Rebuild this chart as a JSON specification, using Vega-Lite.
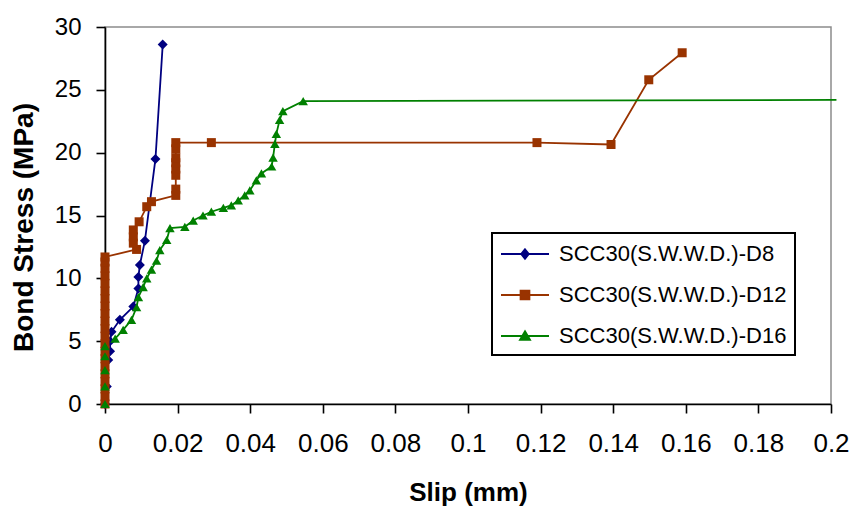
{
  "$schema": "https://vega.github.io/schema/vega-lite/v6.json",
  "width": 726,
  "height": 377,
  "autosize": {"type": "none"},
  "padding": {"left": 105, "top": 27, "right": 21, "bottom": 103},
  "background": "white",
  "config": {
    "font": "Liberation Sans",
    "view": {"stroke": "#8c8c8c", "strokeWidth": 1.5},
    "axis": {
      "domainColor": "#000", "domainWidth": 1.6, "tickColor": "#000", "tickWidth": 1.6, "tickSize": 9,
      "grid": false, "labelColor": "#000", "titleColor": "#000",
      "labelFont": "Liberation Sans", "titleFont": "Liberation Sans", "titleFontWeight": "bold",
      "labelOverlap": false, "labelFlush": false, "labelBound": false
    }
  },
  "data": {"values": [
    {"series": "SCC30(S.W.W.D.)-D8", "slip": 0, "stress": 0},
    {"series": "SCC30(S.W.W.D.)-D8", "slip": 0.0005, "stress": 1.4},
    {"series": "SCC30(S.W.W.D.)-D8", "slip": 0.0009, "stress": 3.5},
    {"series": "SCC30(S.W.W.D.)-D8", "slip": 0.0014, "stress": 4.2},
    {"series": "SCC30(S.W.W.D.)-D8", "slip": 0.0014, "stress": 5.0},
    {"series": "SCC30(S.W.W.D.)-D8", "slip": 0.0018, "stress": 5.75},
    {"series": "SCC30(S.W.W.D.)-D8", "slip": 0.0041, "stress": 6.7},
    {"series": "SCC30(S.W.W.D.)-D8", "slip": 0.0078, "stress": 7.75},
    {"series": "SCC30(S.W.W.D.)-D8", "slip": 0.0092, "stress": 9.2},
    {"series": "SCC30(S.W.W.D.)-D8", "slip": 0.0092, "stress": 10.1},
    {"series": "SCC30(S.W.W.D.)-D8", "slip": 0.0096, "stress": 11.06},
    {"series": "SCC30(S.W.W.D.)-D8", "slip": 0.011, "stress": 13.0},
    {"series": "SCC30(S.W.W.D.)-D8", "slip": 0.0139, "stress": 19.5},
    {"series": "SCC30(S.W.W.D.)-D8", "slip": 0.0159, "stress": 28.6},

    {"series": "SCC30(S.W.W.D.)-D12", "slip": 0, "stress": 0},
    {"series": "SCC30(S.W.W.D.)-D12", "slip": 0, "stress": 0.6},
    {"series": "SCC30(S.W.W.D.)-D12", "slip": 0, "stress": 1.2},
    {"series": "SCC30(S.W.W.D.)-D12", "slip": 0, "stress": 1.8},
    {"series": "SCC30(S.W.W.D.)-D12", "slip": 0, "stress": 2.4},
    {"series": "SCC30(S.W.W.D.)-D12", "slip": 0, "stress": 3.0},
    {"series": "SCC30(S.W.W.D.)-D12", "slip": 0, "stress": 3.6},
    {"series": "SCC30(S.W.W.D.)-D12", "slip": 0, "stress": 4.2},
    {"series": "SCC30(S.W.W.D.)-D12", "slip": 0, "stress": 4.8},
    {"series": "SCC30(S.W.W.D.)-D12", "slip": 0, "stress": 5.4},
    {"series": "SCC30(S.W.W.D.)-D12", "slip": 0, "stress": 6.0},
    {"series": "SCC30(S.W.W.D.)-D12", "slip": 0, "stress": 6.6},
    {"series": "SCC30(S.W.W.D.)-D12", "slip": 0, "stress": 7.2},
    {"series": "SCC30(S.W.W.D.)-D12", "slip": 0, "stress": 7.8},
    {"series": "SCC30(S.W.W.D.)-D12", "slip": 0, "stress": 8.4},
    {"series": "SCC30(S.W.W.D.)-D12", "slip": 0, "stress": 9.0},
    {"series": "SCC30(S.W.W.D.)-D12", "slip": 0, "stress": 9.6},
    {"series": "SCC30(S.W.W.D.)-D12", "slip": 0, "stress": 10.2},
    {"series": "SCC30(S.W.W.D.)-D12", "slip": 0, "stress": 10.8},
    {"series": "SCC30(S.W.W.D.)-D12", "slip": 0, "stress": 11.3},
    {"series": "SCC30(S.W.W.D.)-D12", "slip": 0, "stress": 11.7},
    {"series": "SCC30(S.W.W.D.)-D12", "slip": 0.0087, "stress": 12.3},
    {"series": "SCC30(S.W.W.D.)-D12", "slip": 0.0078, "stress": 12.8},
    {"series": "SCC30(S.W.W.D.)-D12", "slip": 0.0078, "stress": 13.3},
    {"series": "SCC30(S.W.W.D.)-D12", "slip": 0.0078, "stress": 13.85},
    {"series": "SCC30(S.W.W.D.)-D12", "slip": 0.0094, "stress": 14.5},
    {"series": "SCC30(S.W.W.D.)-D12", "slip": 0.0115, "stress": 15.7},
    {"series": "SCC30(S.W.W.D.)-D12", "slip": 0.0128, "stress": 16.1},
    {"series": "SCC30(S.W.W.D.)-D12", "slip": 0.0195, "stress": 16.6},
    {"series": "SCC30(S.W.W.D.)-D12", "slip": 0.0195, "stress": 17.1},
    {"series": "SCC30(S.W.W.D.)-D12", "slip": 0.0195, "stress": 18.2},
    {"series": "SCC30(S.W.W.D.)-D12", "slip": 0.0195, "stress": 18.7},
    {"series": "SCC30(S.W.W.D.)-D12", "slip": 0.0195, "stress": 19.2},
    {"series": "SCC30(S.W.W.D.)-D12", "slip": 0.0195, "stress": 19.6},
    {"series": "SCC30(S.W.W.D.)-D12", "slip": 0.0195, "stress": 20.3},
    {"series": "SCC30(S.W.W.D.)-D12", "slip": 0.0195, "stress": 20.8},
    {"series": "SCC30(S.W.W.D.)-D12", "slip": 0.0293, "stress": 20.8},
    {"series": "SCC30(S.W.W.D.)-D12", "slip": 0.119, "stress": 20.8},
    {"series": "SCC30(S.W.W.D.)-D12", "slip": 0.1394, "stress": 20.65},
    {"series": "SCC30(S.W.W.D.)-D12", "slip": 0.1498, "stress": 25.8},
    {"series": "SCC30(S.W.W.D.)-D12", "slip": 0.159, "stress": 27.95},

    {"series": "SCC30(S.W.W.D.)-D16", "slip": 0, "stress": 0},
    {"series": "SCC30(S.W.W.D.)-D16", "slip": 0, "stress": 1.4},
    {"series": "SCC30(S.W.W.D.)-D16", "slip": 0, "stress": 2.7},
    {"series": "SCC30(S.W.W.D.)-D16", "slip": 0, "stress": 3.8},
    {"series": "SCC30(S.W.W.D.)-D16", "slip": 0, "stress": 4.6},
    {"series": "SCC30(S.W.W.D.)-D16", "slip": 0.0028, "stress": 5.2},
    {"series": "SCC30(S.W.W.D.)-D16", "slip": 0.005, "stress": 5.9},
    {"series": "SCC30(S.W.W.D.)-D16", "slip": 0.0073, "stress": 6.7},
    {"series": "SCC30(S.W.W.D.)-D16", "slip": 0.0087, "stress": 7.7},
    {"series": "SCC30(S.W.W.D.)-D16", "slip": 0.0092, "stress": 8.5},
    {"series": "SCC30(S.W.W.D.)-D16", "slip": 0.0105, "stress": 9.3},
    {"series": "SCC30(S.W.W.D.)-D16", "slip": 0.0115, "stress": 10.0},
    {"series": "SCC30(S.W.W.D.)-D16", "slip": 0.0128, "stress": 10.7},
    {"series": "SCC30(S.W.W.D.)-D16", "slip": 0.0142, "stress": 11.4},
    {"series": "SCC30(S.W.W.D.)-D16", "slip": 0.0151, "stress": 12.25},
    {"series": "SCC30(S.W.W.D.)-D16", "slip": 0.017, "stress": 13.05},
    {"series": "SCC30(S.W.W.D.)-D16", "slip": 0.0179, "stress": 14.0},
    {"series": "SCC30(S.W.W.D.)-D16", "slip": 0.022, "stress": 14.1},
    {"series": "SCC30(S.W.W.D.)-D16", "slip": 0.0243, "stress": 14.6},
    {"series": "SCC30(S.W.W.D.)-D16", "slip": 0.027, "stress": 15.0},
    {"series": "SCC30(S.W.W.D.)-D16", "slip": 0.0293, "stress": 15.3},
    {"series": "SCC30(S.W.W.D.)-D16", "slip": 0.0326, "stress": 15.6},
    {"series": "SCC30(S.W.W.D.)-D16", "slip": 0.0348, "stress": 15.8},
    {"series": "SCC30(S.W.W.D.)-D16", "slip": 0.0367, "stress": 16.2},
    {"series": "SCC30(S.W.W.D.)-D16", "slip": 0.0385, "stress": 16.6},
    {"series": "SCC30(S.W.W.D.)-D16", "slip": 0.0399, "stress": 17.0},
    {"series": "SCC30(S.W.W.D.)-D16", "slip": 0.0417, "stress": 17.8},
    {"series": "SCC30(S.W.W.D.)-D16", "slip": 0.0431, "stress": 18.35},
    {"series": "SCC30(S.W.W.D.)-D16", "slip": 0.0459, "stress": 18.9},
    {"series": "SCC30(S.W.W.D.)-D16", "slip": 0.0463, "stress": 19.6},
    {"series": "SCC30(S.W.W.D.)-D16", "slip": 0.0468, "stress": 20.7},
    {"series": "SCC30(S.W.W.D.)-D16", "slip": 0.0472, "stress": 21.5},
    {"series": "SCC30(S.W.W.D.)-D16", "slip": 0.0481, "stress": 22.6},
    {"series": "SCC30(S.W.W.D.)-D16", "slip": 0.049, "stress": 23.3},
    {"series": "SCC30(S.W.W.D.)-D16", "slip": 0.0546, "stress": 24.1},
    {"series": "SCC30(S.W.W.D.)-D16", "slip": 0.2015, "stress": 24.2}
  ]},
  "layer": [
    {
      "mark": {"type": "line", "strokeWidth": 1.8},
      "encoding": {
        "x": {"field": "slip", "type": "quantitative",
          "scale": {"domain": [0, 0.2], "nice": false, "zero": false},
          "axis": {"values": [0, 0.02, 0.04, 0.06, 0.08, 0.1, 0.12, 0.14, 0.16, 0.18, 0.2], "format": "~g",
            "labelFontSize": 26, "labelPadding": 17, "title": "Slip (mm)", "titleFontSize": 26, "titlePadding": 23}},
        "y": {"field": "stress", "type": "quantitative",
          "scale": {"domain": [0, 30], "nice": false},
          "axis": {"values": [0, 5, 10, 15, 20, 25, 30], "labelFontSize": 24, "labelPadding": 15,
            "title": "Bond Stress (MPa)", "titleFontSize": 28, "titlePadding": 16, "titleY": 200}},
        "color": {"field": "series", "type": "nominal",
          "scale": {"domain": ["SCC30(S.W.W.D.)-D8", "SCC30(S.W.W.D.)-D12", "SCC30(S.W.W.D.)-D16"],
                    "range": ["#000080", "#993300", "#008000"]},
          "legend": {"title": null, "orient": "none", "legendX": 387, "legendY": 206,
            "strokeColor": "#000", "padding": 8, "symbolSize": 576, "symbolStrokeWidth": 1.8,
            "labelFontSize": 22, "labelFont": "Liberation Sans", "labelColor": "#000", "labelOffset": 33,
            "rowPadding": 17, "labelLimit": 400,
            "encode": {
              "legend": {"update": {"strokeWidth": {"value": 2}}},
              "symbols": {"update": {
                "shape": {"signal": "datum.value === 'SCC30(S.W.W.D.)-D8' ? 'M-1,0H3M1,-0.4L1.32,0L1,0.4L0.68,0Z' : datum.value === 'SCC30(S.W.W.D.)-D12' ? 'M-1,0H3M0.63,-0.37H1.37V0.37H0.63Z' : 'M-1,0H3M1,-0.4L1.42,0.32H0.58Z'"},
                "fill": {"scale": "color", "field": "value"},
                "stroke": {"scale": "color", "field": "value"},
                "opacity": {"value": 1}
              }}
            }}
        },
        "order": {"value": null}
      }
    },
    {
      "transform": [{"filter": "datum.series === 'SCC30(S.W.W.D.)-D8'"}],
      "mark": {"type": "point", "filled": true, "opacity": 1, "strokeWidth": 0, "shape": "diamond", "size": 100},
      "encoding": {
        "x": {"field": "slip", "type": "quantitative"},
        "y": {"field": "stress", "type": "quantitative"},
        "color": {"field": "series", "type": "nominal", "legend": null}
      }
    },
    {
      "transform": [{"filter": "datum.series === 'SCC30(S.W.W.D.)-D12'"}],
      "mark": {"type": "point", "filled": true, "opacity": 1, "strokeWidth": 0, "shape": "square", "size": 81},
      "encoding": {
        "x": {"field": "slip", "type": "quantitative"},
        "y": {"field": "stress", "type": "quantitative"},
        "color": {"field": "series", "type": "nominal", "legend": null}
      }
    },
    {
      "transform": [{"filter": "datum.series === 'SCC30(S.W.W.D.)-D16' && datum.slip <= 0.2"}],
      "mark": {"type": "point", "filled": true, "opacity": 1, "strokeWidth": 0, "shape": "triangle-up", "size": 90},
      "encoding": {
        "x": {"field": "slip", "type": "quantitative"},
        "y": {"field": "stress", "type": "quantitative"},
        "color": {"field": "series", "type": "nominal", "legend": null}
      }
    }
  ]
}
